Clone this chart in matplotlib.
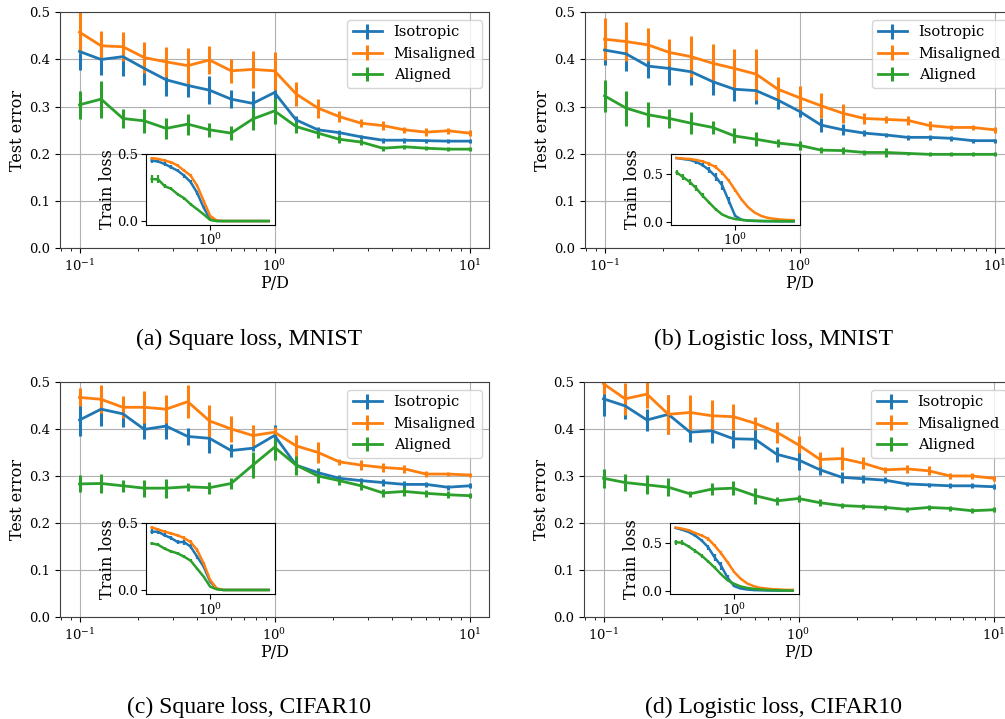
import numpy as np
import matplotlib
matplotlib.use("Agg")
import matplotlib.pyplot as plt
from matplotlib.ticker import NullLocator

plt.rcParams['font.family'] = 'serif'
plt.rcParams['font.serif'] = ['DejaVu Serif']
plt.rcParams['mathtext.fontset'] = 'dejavuserif'

# P/D grid
pd_ratio = [0.1, 0.129, 0.167, 0.215, 0.278, 0.359, 0.464, 0.599, 0.774, 1.0,
            1.29, 1.67, 2.15, 2.78, 3.59, 4.64, 5.99, 7.74, 10.0]

labels = ['Isotropic', 'Misaligned', 'Aligned']
colors = ['#1f77b4', '#ff7f0e', '#2ca02c']

# (a) square loss, MNIST
a_iso = [0.417, 0.400, 0.406, 0.381, 0.357, 0.345, 0.335, 0.316, 0.307, 0.330, 0.272, 0.251, 0.245, 0.236, 0.229, 0.229, 0.228, 0.227, 0.227]
a_iso_err = [0.040, 0.032, 0.040, 0.035, 0.034, 0.025, 0.030, 0.019, 0.027, 0.027, 0.008, 0.006, 0.005, 0.005, 0.005, 0.005, 0.004, 0.004, 0.004]
a_mis = [0.458, 0.429, 0.427, 0.404, 0.395, 0.387, 0.399, 0.376, 0.379, 0.376, 0.327, 0.297, 0.279, 0.265, 0.260, 0.251, 0.246, 0.249, 0.244]
a_mis_err = [0.045, 0.031, 0.031, 0.032, 0.032, 0.038, 0.029, 0.025, 0.040, 0.040, 0.026, 0.020, 0.012, 0.009, 0.009, 0.007, 0.008, 0.006, 0.006]
a_ali = [0.304, 0.316, 0.275, 0.270, 0.254, 0.263, 0.251, 0.244, 0.274, 0.291, 0.258, 0.244, 0.231, 0.225, 0.212, 0.215, 0.212, 0.210, 0.210]
a_ali_err = [0.030, 0.039, 0.021, 0.025, 0.022, 0.022, 0.015, 0.015, 0.023, 0.027, 0.013, 0.010, 0.009, 0.007, 0.005, 0.004, 0.004, 0.004, 0.004]
a_iso_tr = [0.450, 0.443, 0.425, 0.400, 0.375, 0.338, 0.290, 0.210, 0.100, 0.013, 0.001, 0.0, 0.0, 0.0, 0.0, 0.0, 0.0, 0.0, 0.0]
a_iso_tr_err = [0.015, 0.012, 0.015, 0.015, 0.012, 0.015, 0.015, 0.015, 0.012, 0.005, 0.0, 0.0, 0.0, 0.0, 0.0, 0.0, 0.0, 0.0, 0.0]
a_mis_tr = [0.468, 0.463, 0.450, 0.438, 0.413, 0.375, 0.338, 0.263, 0.150, 0.038, 0.005, 0.0, 0.0, 0.0, 0.0, 0.0, 0.0, 0.0, 0.0]
a_mis_tr_err = [0.010, 0.010, 0.010, 0.010, 0.012, 0.012, 0.012, 0.012, 0.010, 0.005, 0.0, 0.0, 0.0, 0.0, 0.0, 0.0, 0.0, 0.0, 0.0]
a_ali_tr = [0.313, 0.310, 0.260, 0.240, 0.200, 0.170, 0.125, 0.088, 0.050, 0.008, 0.0, 0.0, 0.0, 0.0, 0.0, 0.0, 0.0, 0.0, 0.0]
a_ali_tr_err = [0.030, 0.030, 0.015, 0.012, 0.010, 0.010, 0.010, 0.008, 0.006, 0.003, 0.0, 0.0, 0.0, 0.0, 0.0, 0.0, 0.0, 0.0, 0.0]

# (b) logistic loss, MNIST
b_iso = [0.420, 0.412, 0.386, 0.381, 0.374, 0.353, 0.337, 0.334, 0.314, 0.290, 0.261, 0.251, 0.244, 0.240, 0.235, 0.235, 0.233, 0.228, 0.228]
b_iso_err = [0.032, 0.037, 0.026, 0.034, 0.028, 0.028, 0.026, 0.028, 0.019, 0.012, 0.014, 0.012, 0.007, 0.005, 0.005, 0.005, 0.005, 0.004, 0.004]
b_mis = [0.443, 0.438, 0.431, 0.415, 0.406, 0.392, 0.381, 0.369, 0.337, 0.319, 0.302, 0.286, 0.275, 0.273, 0.271, 0.260, 0.256, 0.256, 0.251]
b_mis_err = [0.044, 0.041, 0.035, 0.028, 0.044, 0.040, 0.041, 0.054, 0.025, 0.025, 0.026, 0.020, 0.011, 0.008, 0.009, 0.009, 0.006, 0.005, 0.007]
b_ali = [0.323, 0.297, 0.283, 0.275, 0.265, 0.256, 0.238, 0.231, 0.223, 0.218, 0.208, 0.207, 0.203, 0.203, 0.201, 0.199, 0.199, 0.199, 0.199]
b_ali_err = [0.034, 0.037, 0.026, 0.020, 0.023, 0.013, 0.016, 0.015, 0.008, 0.009, 0.007, 0.007, 0.005, 0.009, 0.004, 0.004, 0.004, 0.004, 0.004]
b_iso_tr = [0.665, 0.655, 0.645, 0.625, 0.590, 0.540, 0.470, 0.380, 0.220, 0.060, 0.020, 0.010, 0.007, 0.005, 0.004, 0.004, 0.003, 0.003, 0.003]
b_iso_tr_err = [0.010, 0.010, 0.015, 0.020, 0.020, 0.030, 0.040, 0.050, 0.040, 0.015, 0.005, 0.003, 0.002, 0.002, 0.002, 0.002, 0.001, 0.001, 0.001]
b_mis_tr = [0.665, 0.660, 0.655, 0.645, 0.630, 0.605, 0.570, 0.510, 0.430, 0.330, 0.230, 0.150, 0.095, 0.060, 0.040, 0.030, 0.022, 0.018, 0.015]
b_mis_tr_err = [0.010, 0.010, 0.012, 0.015, 0.015, 0.020, 0.020, 0.020, 0.020, 0.015, 0.012, 0.008, 0.006, 0.004, 0.003, 0.002, 0.002, 0.002, 0.002]
b_ali_tr = [0.515, 0.465, 0.415, 0.350, 0.270, 0.200, 0.130, 0.075, 0.045, 0.027, 0.018, 0.013, 0.010, 0.008, 0.007, 0.006, 0.005, 0.005, 0.005]
b_ali_tr_err = [0.030, 0.030, 0.030, 0.030, 0.025, 0.020, 0.015, 0.010, 0.006, 0.004, 0.003, 0.002, 0.002, 0.001, 0.001, 0.001, 0.001, 0.001, 0.001]

# (c) square loss, CIFAR10
c_iso = [0.420, 0.443, 0.433, 0.400, 0.407, 0.385, 0.381, 0.355, 0.360, 0.387, 0.324, 0.308, 0.296, 0.291, 0.287, 0.283, 0.283, 0.277, 0.280]
c_iso_err = [0.035, 0.035, 0.027, 0.021, 0.027, 0.019, 0.032, 0.014, 0.005, 0.023, 0.018, 0.009, 0.006, 0.006, 0.007, 0.008, 0.006, 0.005, 0.005]
c_mis = [0.468, 0.464, 0.447, 0.447, 0.443, 0.459, 0.418, 0.401, 0.387, 0.394, 0.365, 0.351, 0.331, 0.324, 0.319, 0.316, 0.305, 0.305, 0.303]
c_mis_err = [0.019, 0.030, 0.023, 0.034, 0.030, 0.035, 0.034, 0.027, 0.022, 0.012, 0.023, 0.023, 0.007, 0.011, 0.009, 0.008, 0.006, 0.005, 0.005]
c_ali = [0.284, 0.285, 0.280, 0.275, 0.275, 0.278, 0.276, 0.285, 0.324, 0.362, 0.324, 0.301, 0.291, 0.280, 0.265, 0.268, 0.264, 0.261, 0.259]
c_ali_err = [0.018, 0.021, 0.013, 0.018, 0.020, 0.009, 0.013, 0.011, 0.027, 0.027, 0.020, 0.015, 0.009, 0.009, 0.009, 0.009, 0.008, 0.007, 0.005]
c_iso_tr = [0.438, 0.438, 0.410, 0.390, 0.360, 0.360, 0.325, 0.250, 0.175, 0.063, 0.010, 0.0, 0.0, 0.0, 0.0, 0.0, 0.0, 0.0, 0.0]
c_iso_tr_err = [0.020, 0.020, 0.015, 0.015, 0.015, 0.020, 0.020, 0.015, 0.012, 0.006, 0.002, 0.0, 0.0, 0.0, 0.0, 0.0, 0.0, 0.0, 0.0]
c_mis_tr = [0.470, 0.455, 0.438, 0.425, 0.410, 0.390, 0.360, 0.300, 0.200, 0.075, 0.012, 0.0, 0.0, 0.0, 0.0, 0.0, 0.0, 0.0, 0.0]
c_mis_tr_err = [0.012, 0.010, 0.010, 0.010, 0.012, 0.012, 0.012, 0.012, 0.010, 0.006, 0.002, 0.0, 0.0, 0.0, 0.0, 0.0, 0.0, 0.0, 0.0]
c_ali_tr = [0.350, 0.340, 0.310, 0.290, 0.275, 0.250, 0.220, 0.160, 0.100, 0.025, 0.005, 0.0, 0.0, 0.0, 0.0, 0.0, 0.0, 0.0, 0.0]
c_ali_tr_err = [0.012, 0.012, 0.010, 0.010, 0.010, 0.010, 0.010, 0.008, 0.006, 0.004, 0.002, 0.0, 0.0, 0.0, 0.0, 0.0, 0.0, 0.0, 0.0]

# (d) logistic loss, CIFAR10
d_iso = [0.465, 0.450, 0.420, 0.432, 0.394, 0.397, 0.380, 0.379, 0.347, 0.335, 0.314, 0.298, 0.295, 0.292, 0.284, 0.282, 0.280, 0.280, 0.278]
d_iso_err = [0.037, 0.027, 0.023, 0.041, 0.021, 0.027, 0.019, 0.021, 0.016, 0.021, 0.012, 0.012, 0.009, 0.006, 0.005, 0.005, 0.005, 0.005, 0.005]
d_mis = [0.497, 0.465, 0.475, 0.432, 0.436, 0.429, 0.427, 0.413, 0.394, 0.367, 0.336, 0.338, 0.328, 0.314, 0.316, 0.312, 0.301, 0.301, 0.296]
d_mis_err = [0.022, 0.034, 0.030, 0.041, 0.037, 0.034, 0.028, 0.014, 0.022, 0.018, 0.016, 0.025, 0.013, 0.007, 0.009, 0.010, 0.006, 0.006, 0.005]
d_ali = [0.296, 0.287, 0.282, 0.277, 0.263, 0.273, 0.275, 0.259, 0.248, 0.253, 0.244, 0.238, 0.236, 0.234, 0.230, 0.234, 0.232, 0.227, 0.229]
d_ali_err = [0.020, 0.018, 0.020, 0.019, 0.006, 0.013, 0.015, 0.017, 0.009, 0.007, 0.007, 0.006, 0.006, 0.005, 0.005, 0.005, 0.005, 0.005, 0.005]
d_iso_tr = [0.658, 0.640, 0.616, 0.580, 0.528, 0.458, 0.352, 0.264, 0.140, 0.053, 0.028, 0.018, 0.012, 0.010, 0.008, 0.007, 0.006, 0.006, 0.006]
d_iso_tr_err = [0.010, 0.010, 0.012, 0.015, 0.020, 0.025, 0.035, 0.040, 0.030, 0.010, 0.005, 0.003, 0.002, 0.002, 0.001, 0.001, 0.001, 0.001, 0.001]
d_mis_tr = [0.662, 0.651, 0.634, 0.606, 0.580, 0.546, 0.475, 0.394, 0.300, 0.200, 0.130, 0.081, 0.053, 0.035, 0.028, 0.021, 0.018, 0.014, 0.014]
d_mis_tr_err = [0.010, 0.012, 0.012, 0.015, 0.015, 0.020, 0.020, 0.020, 0.018, 0.015, 0.010, 0.006, 0.004, 0.003, 0.002, 0.002, 0.002, 0.002, 0.002]
d_ali_tr = [0.510, 0.505, 0.465, 0.420, 0.370, 0.310, 0.246, 0.176, 0.113, 0.077, 0.050, 0.035, 0.025, 0.018, 0.014, 0.011, 0.009, 0.008, 0.007]
d_ali_tr_err = [0.025, 0.025, 0.020, 0.020, 0.020, 0.018, 0.015, 0.012, 0.008, 0.005, 0.003, 0.002, 0.002, 0.001, 0.001, 0.001, 0.001, 0.001, 0.001]

captions = ['(a) Square loss, MNIST', '(b) Logistic loss, MNIST',
            '(c) Square loss, CIFAR10', '(d) Logistic loss, CIFAR10']


def draw_panel(ax, test, test_err, train, train_err, inset_ylim=None):
    for y, e, lab, c in zip(test, test_err, labels, colors):
        ax.errorbar(pd_ratio, y, yerr=e, color=c, label=lab, lw=2.0, elinewidth=2.2)
    ax.set_xscale('log')
    ax.set_ylim(0, 0.5)
    ax.set_yticks([0.0, 0.1, 0.2, 0.3, 0.4, 0.5])
    ax.grid(True, which='major', color='#b0b0b0', lw=0.8)
    ax.set_xlabel('P/D', fontsize=11.5, labelpad=1)
    ax.set_ylabel('Test error', fontsize=11.5, labelpad=2)
    ax.tick_params(labelsize=9.5)
    for s in ax.spines.values():
        s.set_color('0.25')
    ax.legend(loc='upper right', fontsize=10.5)

    ins = ax.inset_axes([0.2, 0.1, 0.3, 0.3])
    for y, e, c in zip(train, train_err, colors):
        ins.errorbar(pd_ratio, y, yerr=e, color=c, lw=1.8, elinewidth=1.6)
    ins.set_xscale('log')
    if inset_ylim is not None:
        ins.set_ylim(*inset_ylim)
    ins.set_yticks([0.0, 0.5])
    ins.set_ylabel('Train loss', fontsize=11.5, labelpad=1)
    ins.tick_params(labelsize=9.5, pad=2)
    ins.set_xticks([1.0])
    ins.xaxis.set_minor_locator(NullLocator())
    ins.set_facecolor('white')
    for s in ins.spines.values():
        s.set_color('black')


fig = plt.figure(figsize=(10.05, 7.19), dpi=100)
ax_a = fig.add_axes([0.0597, 0.6547, 0.4269, 0.3282])
ax_b = fig.add_axes([0.5821, 0.6547, 0.4269, 0.3282])
ax_c = fig.add_axes([0.0597, 0.1412, 0.4269, 0.3270])
ax_d = fig.add_axes([0.5811, 0.1412, 0.4269, 0.3270])

draw_panel(ax_a, [a_iso, a_mis, a_ali], [a_iso_err, a_mis_err, a_ali_err],
           [a_iso_tr, a_mis_tr, a_ali_tr], [a_iso_tr_err, a_mis_tr_err, a_ali_tr_err],
           inset_ylim=(-0.027, 0.5))
draw_panel(ax_b, [b_iso, b_mis, b_ali], [b_iso_err, b_mis_err, b_ali_err],
           [b_iso_tr, b_mis_tr, b_ali_tr], [b_iso_tr_err, b_mis_tr_err, b_ali_tr_err])
draw_panel(ax_c, [c_iso, c_mis, c_ali], [c_iso_err, c_mis_err, c_ali_err],
           [c_iso_tr, c_mis_tr, c_ali_tr], [c_iso_tr_err, c_mis_tr_err, c_ali_tr_err],
           inset_ylim=(-0.03, 0.5))
draw_panel(ax_d, [d_iso, d_mis, d_ali], [d_iso_err, d_mis_err, d_ali_err],
           [d_iso_tr, d_mis_tr, d_ali_tr], [d_iso_tr_err, d_mis_tr_err, d_ali_tr_err])

# captions under each panel
cap_font = dict(family=['Liberation Serif', 'DejaVu Serif'], fontsize=17,
                ha='center', va='center')
fig.text(249 / 1005, 1 - 339 / 719, captions[0], **cap_font)
fig.text(774 / 1005, 1 - 339 / 719, captions[1], **cap_font)
fig.text(249 / 1005, 1 - 707 / 719, captions[2], **cap_font)
fig.text(773 / 1005, 1 - 707 / 719, captions[3], **cap_font)

fig.savefig('out.png', dpi=100)
